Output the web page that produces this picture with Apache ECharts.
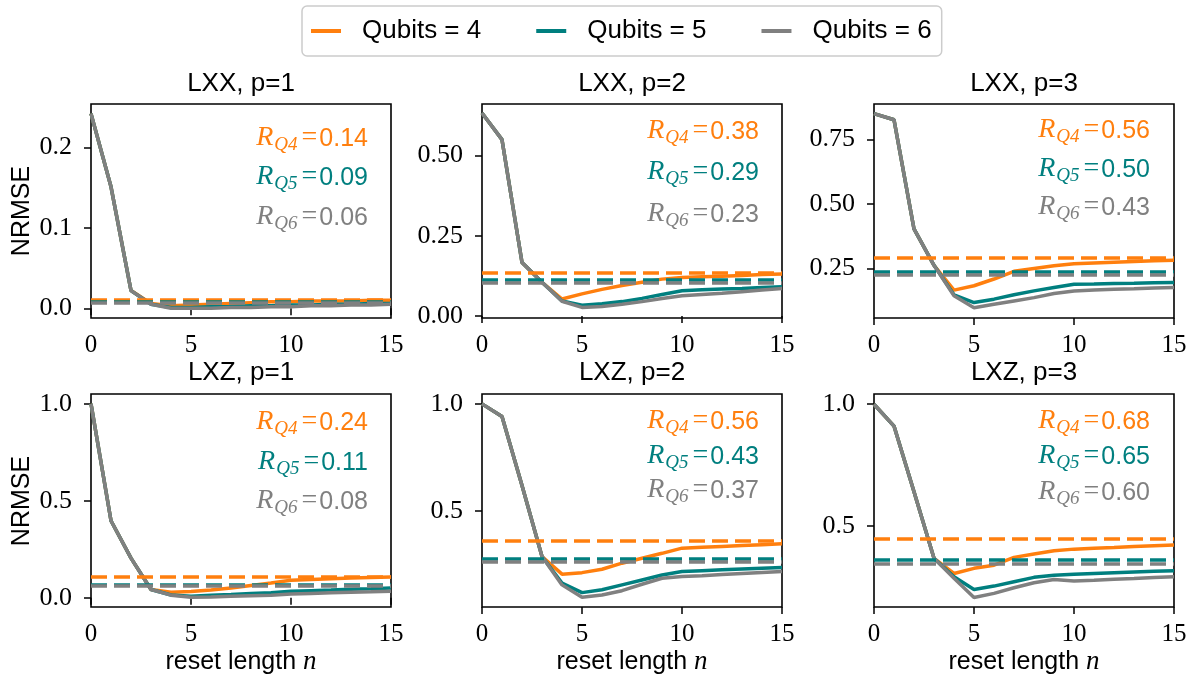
<!DOCTYPE html>
<html>
<head>
<meta charset="utf-8">
<script src="https://cdn.jsdelivr.net/npm/echarts@6/dist/echarts.min.js"></script>
<style>
  html, body { margin: 0; padding: 0; background: #fff; }
  #chart { width: 1195px; height: 677px; }
</style>
</head>
<body>
<div id="chart"></div>
<script>
  // x axis: reset length n
  const resetLength = [0, 1, 2, 3, 4, 5, 6, 7, 8, 9, 10, 11, 12, 13, 14, 15]
  const xTicks = [0, 5, 10, 15]
  const seriesNames = ['Qubits = 4', 'Qubits = 5', 'Qubits = 6']
  const panelTitles = ['LXX, p=1', 'LXX, p=2', 'LXX, p=3', 'LXZ, p=1', 'LXZ, p=2', 'LXZ, p=3']

  // NRMSE curves, one array per panel and qubit count
  const lxx1Q4 = [0.242, 0.151, 0.022, 0.006, 0.003, 0.004, 0.005, 0.006, 0.007, 0.008, 0.008, 0.009, 0.009, 0.009, 0.010, 0.010]
  const lxx1Q5 = [0.242, 0.151, 0.022, 0.005, 0.001, 0.001, 0.002, 0.002, 0.003, 0.003, 0.004, 0.004, 0.005, 0.005, 0.006, 0.006]
  const lxx1Q6 = [0.242, 0.151, 0.022, 0.005, 0.000, 0.000, 0.000, 0.001, 0.001, 0.002, 0.002, 0.003, 0.003, 0.004, 0.004, 0.005]

  const lxx2Q4 = [0.632, 0.549, 0.167, 0.105, 0.053, 0.069, 0.083, 0.095, 0.105, 0.115, 0.120, 0.122, 0.124, 0.126, 0.129, 0.131]
  const lxx2Q5 = [0.632, 0.549, 0.167, 0.105, 0.047, 0.034, 0.038, 0.045, 0.055, 0.067, 0.079, 0.082, 0.084, 0.086, 0.089, 0.091]
  const lxx2Q6 = [0.632, 0.549, 0.167, 0.105, 0.046, 0.027, 0.030, 0.037, 0.045, 0.055, 0.063, 0.067, 0.071, 0.076, 0.081, 0.086]

  const lxx3Q4 = [0.850, 0.826, 0.403, 0.262, 0.166, 0.183, 0.209, 0.239, 0.250, 0.260, 0.268, 0.271, 0.274, 0.277, 0.280, 0.282]
  const lxx3Q5 = [0.850, 0.826, 0.403, 0.262, 0.148, 0.118, 0.131, 0.148, 0.163, 0.176, 0.189, 0.190, 0.192, 0.193, 0.195, 0.196]
  const lxx3Q6 = [0.850, 0.826, 0.403, 0.262, 0.144, 0.098, 0.111, 0.124, 0.137, 0.153, 0.163, 0.166, 0.169, 0.171, 0.174, 0.176]

  const lxz1Q4 = [1.000, 0.397, 0.205, 0.043, 0.029, 0.033, 0.040, 0.051, 0.064, 0.077, 0.091, 0.095, 0.099, 0.102, 0.105, 0.108]
  const lxz1Q5 = [1.000, 0.397, 0.205, 0.043, 0.015, 0.009, 0.013, 0.017, 0.022, 0.027, 0.034, 0.037, 0.040, 0.044, 0.047, 0.051]
  const lxz1Q6 = [1.000, 0.397, 0.205, 0.043, 0.014, 0.003, 0.005, 0.008, 0.011, 0.014, 0.020, 0.023, 0.026, 0.029, 0.031, 0.034]

  const lxz2Q4 = [1.000, 0.941, 0.620, 0.289, 0.207, 0.214, 0.230, 0.258, 0.281, 0.304, 0.328, 0.332, 0.336, 0.340, 0.344, 0.348]
  const lxz2Q5 = [1.000, 0.941, 0.620, 0.289, 0.165, 0.121, 0.134, 0.157, 0.180, 0.203, 0.219, 0.223, 0.227, 0.231, 0.235, 0.238]
  const lxz2Q6 = [1.000, 0.941, 0.620, 0.289, 0.157, 0.099, 0.110, 0.130, 0.160, 0.188, 0.196, 0.200, 0.205, 0.210, 0.215, 0.219]

  const lxz3Q4 = [1.000, 0.910, 0.640, 0.366, 0.304, 0.325, 0.338, 0.370, 0.384, 0.397, 0.404, 0.408, 0.411, 0.415, 0.418, 0.421]
  const lxz3Q5 = [1.000, 0.910, 0.640, 0.366, 0.290, 0.238, 0.252, 0.270, 0.288, 0.297, 0.301, 0.304, 0.307, 0.310, 0.313, 0.315]
  const lxz3Q6 = [1.000, 0.910, 0.640, 0.366, 0.284, 0.205, 0.222, 0.245, 0.266, 0.279, 0.273, 0.276, 0.280, 0.283, 0.287, 0.290]

  // dashed reference levels (Q4, Q5, Q6)
  const lxx1Ref = [0.0105, 0.008, 0.0068]
  const lxx2Ref = [0.136, 0.112, 0.104]
  const lxx3Ref = [0.293, 0.236, 0.224]
  const lxz1Ref = [0.111, 0.068, 0.060]
  const lxz2Ref = [0.362, 0.281, 0.266]
  const lxz3Ref = [0.447, 0.359, 0.342]

  // R values printed in each panel (Q4, Q5, Q6)
  const lxx1R = ['0.14', '0.09', '0.06']
  const lxx2R = ['0.38', '0.29', '0.23']
  const lxx3R = ['0.56', '0.50', '0.43']
  const lxz1R = ['0.24', '0.11', '0.08']
  const lxz2R = ['0.56', '0.43', '0.37']
  const lxz3R = ['0.68', '0.65', '0.60']

  // y tick labels per panel
  const lxx1YTicks = [0.0, 0.1, 0.2]
  const lxx2YTicks = [0.0, 0.25, 0.5]
  const lxx3YTicks = [0.25, 0.5, 0.75]
  const lxz1YTicks = [0.0, 0.5, 1.0]
  const lxz2YTicks = [0.5, 1.0]
  const lxz3YTicks = [0.5, 1.0]

  const colors = ['#ff7f0e', '#007f7f', '#808080']
  const sansFont = '"Liberation Sans", Arial, sans-serif'
  const serifFont = '"Liberation Serif", "Times New Roman", serif'

  const panels = [
    { curves: [lxx1Q4, lxx1Q5, lxx1Q6], refs: lxx1Ref, rs: lxx1R, ticks: lxx1YTicks, dec: 1, min: -0.0121, max: 0.254 },
    { curves: [lxx2Q4, lxx2Q5, lxx2Q6], refs: lxx2Ref, rs: lxx2R, ticks: lxx2YTicks, dec: 2, min: -0.006, max: 0.66 },
    { curves: [lxx3Q4, lxx3Q5, lxx3Q6], refs: lxx3Ref, rs: lxx3R, ticks: lxx3YTicks, dec: 2, min: 0.058, max: 0.887 },
    { curves: [lxz1Q4, lxz1Q5, lxz1Q6], refs: lxz1Ref, rs: lxz1R, ticks: lxz1YTicks, dec: 1, min: -0.047, max: 1.05 },
    { curves: [lxz2Q4, lxz2Q5, lxz2Q6], refs: lxz2Ref, rs: lxz2R, ticks: lxz2YTicks, dec: 1, min: 0.054, max: 1.046 },
    { curves: [lxz3Q4, lxz3Q5, lxz3Q6], refs: lxz3Ref, rs: lxz3R, ticks: lxz3YTicks, dec: 1, min: 0.166, max: 1.042 }
  ]

  // layout (pixels)
  const gridLefts = [91, 482, 874, 91, 482, 874]
  const gridTops = [104, 104, 104, 394, 394, 394]
  const gridW = 300
  const gridH = 214
  const rLabelY = [[139, 178, 218], [132, 173, 215], [131, 170, 208],
                   [423, 463, 502], [422, 457, 491], [422, 457, 493]]

  const chart = echarts.init(document.getElementById('chart'), null, { renderer: 'canvas' })

  const grid = []
  const xAxis = []
  const yAxis = []
  const series = []
  const graphic = []

  panels.forEach((p, i) => {
    grid.push({
      left: gridLefts[i], top: gridTops[i], width: gridW, height: i < 3 ? gridH : 213,
      show: true, borderColor: '#000', borderWidth: 1.6, backgroundColor: 'transparent'
    })
    xAxis.push({
      gridIndex: i, type: 'value', min: 0, max: 15, interval: 5,
      axisLine: { show: false },
      axisTick: { show: true, length: 7, customValues: xTicks, lineStyle: { color: '#000', width: 1.5 } },
      axisLabel: { customValues: xTicks, margin: 15, color: '#000', fontFamily: serifFont, fontSize: 25 },
      splitLine: { show: false }
    })
    yAxis.push({
      gridIndex: i, type: 'value', min: p.min, max: p.max,
      axisLine: { show: false },
      axisTick: { show: true, length: 7, customValues: p.ticks, lineStyle: { color: '#000', width: 1.5 } },
      axisLabel: {
        customValues: p.ticks, margin: 19, color: '#000', fontFamily: serifFont, fontSize: 26,
        formatter: v => Number(v).toFixed(p.dec)
      },
      splitLine: { show: false }
    })
    p.curves.forEach((vals, k) => {
      series.push({
        name: seriesNames[k], type: 'line', xAxisIndex: i, yAxisIndex: i,
        data: resetLength.map((x, j) => [x, vals[j]]),
        showSymbol: false, symbol: 'none', color: colors[k],
        lineStyle: { width: 3.5, color: colors[k] },
        markLine: {
          silent: true, symbol: 'none', precision: 5, label: { show: false },
          lineStyle: { type: [16, 7], width: 3.5, color: colors[k] },
          data: [{ yAxis: p.refs[k] }]
        }
      })
      graphic.push({
        type: 'text', x: [368, 759, 1150][i % 3], y: rLabelY[i][k],
        style: {
          text: '{r|R}{s|Q' + (k + 4) + '}{e|=}{v|' + p.rs[k] + '}',
          align: 'right', verticalAlign: 'middle',
          rich: {
            r: { fontFamily: serifFont, fontStyle: 'italic', fontSize: 28, fill: colors[k], verticalAlign: 'bottom', padding: [0, 0, 2, 0] },
            s: { fontFamily: serifFont, fontStyle: 'italic', fontSize: 19, fill: colors[k], verticalAlign: 'bottom', padding: [0, 3, 0, 1] },
            e: { fontFamily: serifFont, fontSize: 28, fill: colors[k], verticalAlign: 'bottom', padding: [0, 2, 2, 1] },
            v: { fontFamily: sansFont, fontSize: 25, fill: colors[k], verticalAlign: 'bottom', padding: [0, 0, 2, 0] }
          }
        }
      })
    })
    graphic.push({
      type: 'text', x: gridLefts[i] + gridW / 2, y: i < 3 ? 84 : 373,
      style: { text: panelTitles[i], fontFamily: sansFont, fontSize: 26, fill: '#000', align: 'center', verticalAlign: 'middle' }
    })
    if (i % 3 === 0) {
      graphic.push({
        type: 'text', x: 22, y: gridTops[i] + gridH / 2, rotation: Math.PI / 2,
        style: { text: 'NRMSE', fontFamily: sansFont, fontSize: 25, fill: '#000', align: 'center', verticalAlign: 'middle' }
      })
    }
    if (i >= 3) {
      graphic.push({
        type: 'text', x: gridLefts[i] + gridW / 2, y: 662,
        style: {
          text: '{a|reset length }{b|n}', align: 'center', verticalAlign: 'middle',
          rich: {
            a: { fontFamily: sansFont, fontSize: 25, fill: '#000' },
            b: { fontFamily: serifFont, fontStyle: 'italic', fontSize: 27, fill: '#000' }
          }
        }
      })
    }
  })

  const option = {
    animation: false,
    backgroundColor: '#fff',
    legend: {
      data: seriesNames, left: 302, top: 6,
      icon: 'rect', itemWidth: 30, itemHeight: 4, itemGap: 55,
      padding: [12, 10, 12, 9],
      borderColor: '#cccccc', borderWidth: 1.5, borderRadius: 5,
      textStyle: { fontFamily: sansFont, fontSize: 26, color: '#000', padding: [0, 0, 0, 16] }
    },
    grid, xAxis, yAxis, series, graphic
  }
  chart.setOption(option)
</script>
</body>
</html>
